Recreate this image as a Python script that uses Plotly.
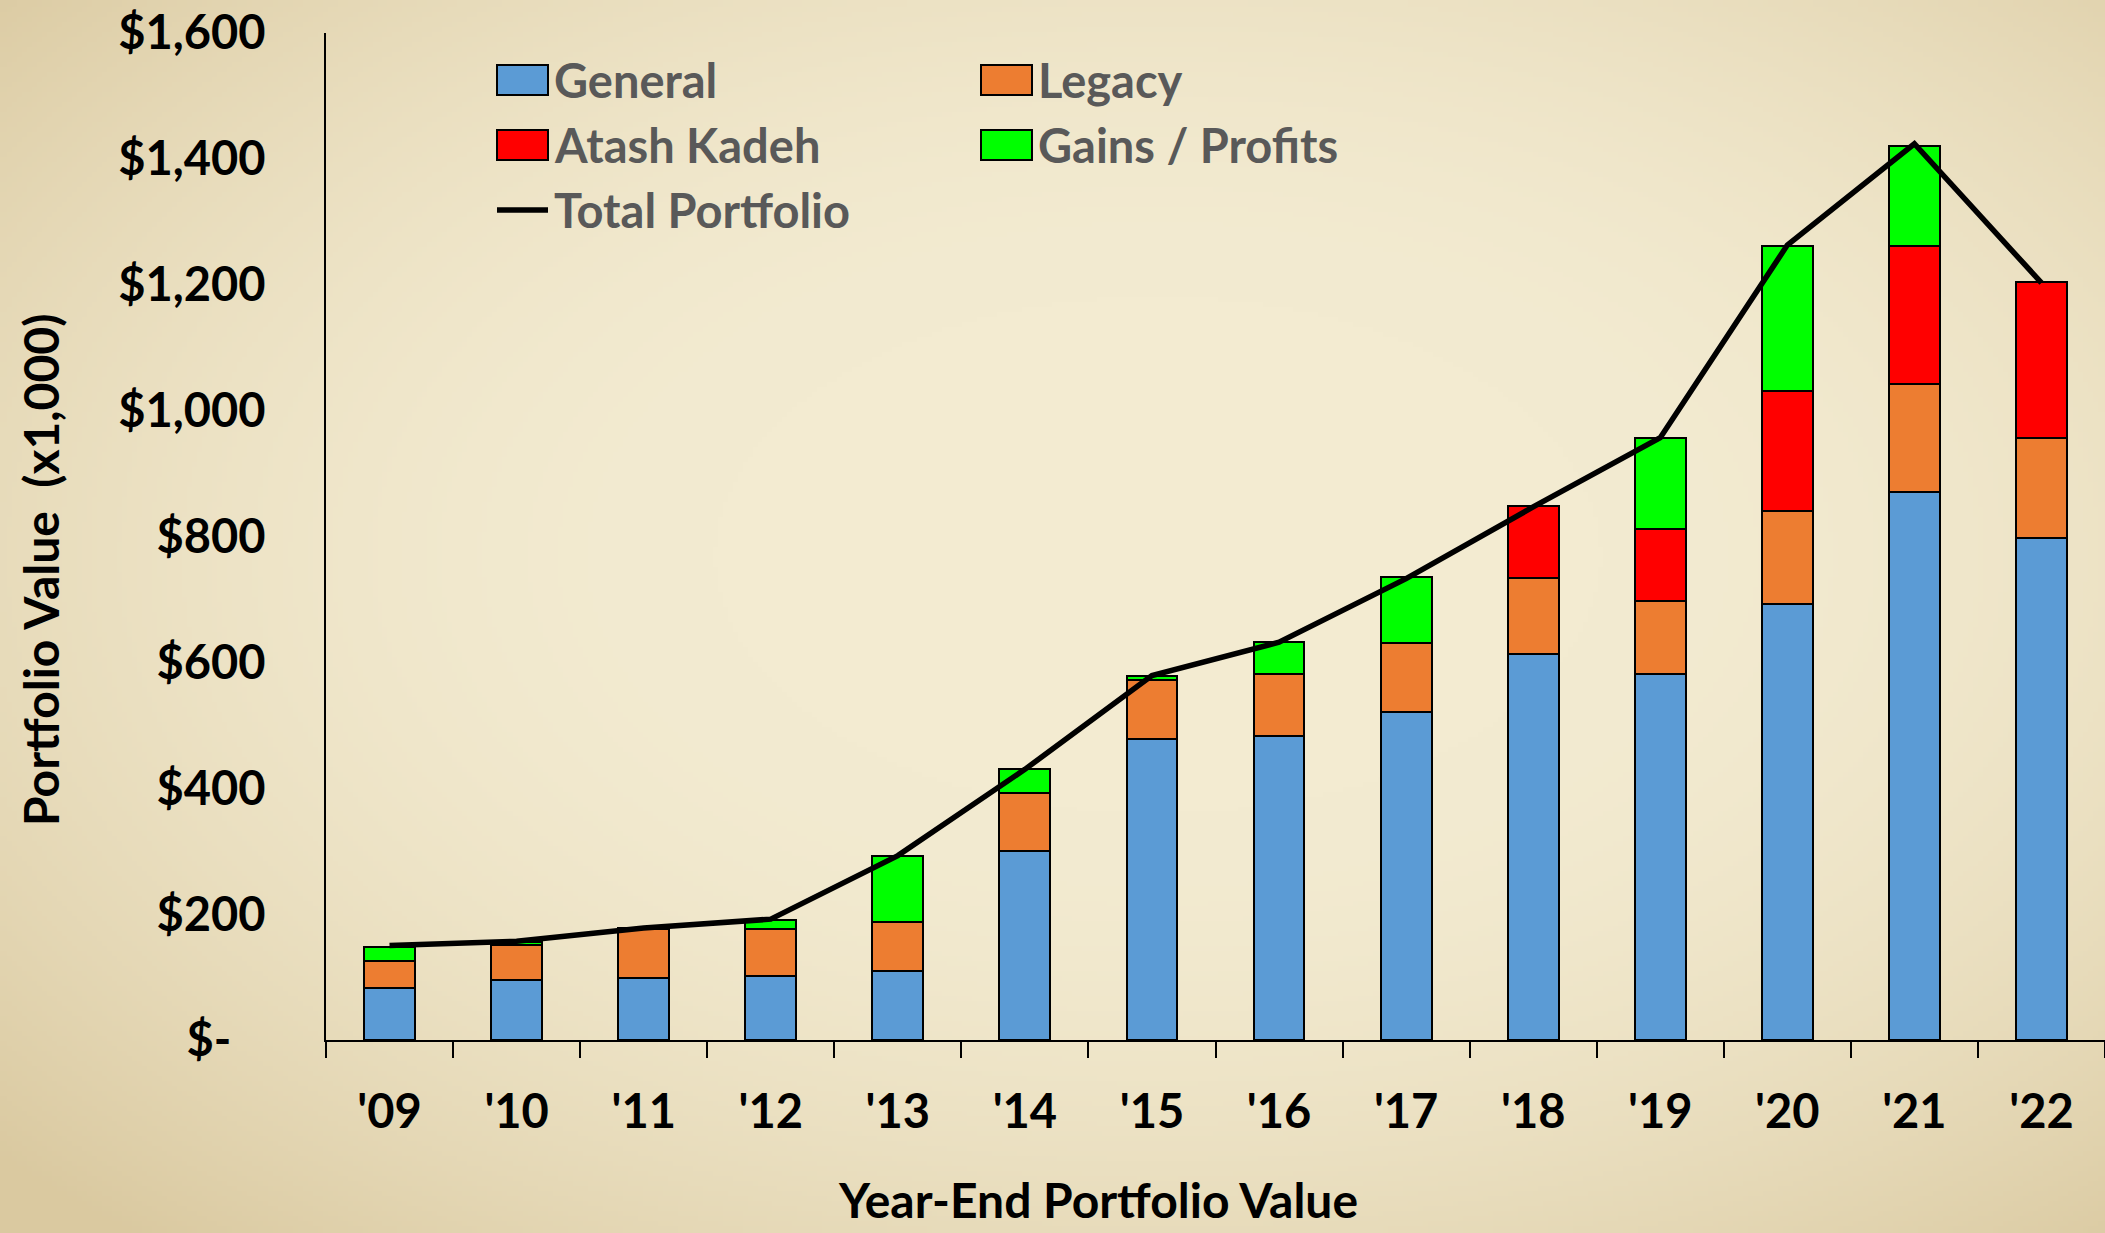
import numpy as np
import zlib, struct, base64
import plotly.graph_objects as go

# ---------------- data ----------------
years = ["'09", "'10", "'11", "'12", "'13", "'14", "'15", "'16", "'17", "'18", "'19", "'20", "'21", "'22"]
general = [82, 95, 99, 102, 109, 301, 478, 483, 521, 613, 582, 693, 871, 798]
legacy = [44, 56, 77, 74, 78, 91, 94, 98, 110, 121, 115, 147, 172, 158]
atash_kadeh = [0, 0, 0, 0, 0, 0, 0, 0, 0, 114, 115, 191, 219, 248]
gains_profits = [22, 5, 2, 15, 105, 39, 6, 51, 104, 0, 145, 231, 159, 0]
total_portfolio = [150, 157, 178, 192, 293, 430, 579, 632, 733, 847, 957, 1263, 1424, 1203]

y_tick_vals = [0, 200, 400, 600, 800, 1000, 1200, 1400, 1600]
y_tick_text = ["$-\u00a0\u00a0\u00a0", "$200", "$400", "$600", "$800", "$1,000", "$1,200", "$1,400", "$1,600"]

bar_names = ["General", "Legacy", "Atash Kadeh", "Gains / Profits"]
bar_colors = ["#5B9BD5", "#ED7D31", "#FF0000", "#00FF00"]
bar_series = [general, legacy, atash_kadeh, gains_profits]
line_name = "Total Portfolio"

# ---------------- layout constants ----------------
W, H = 2105, 1233
ML, MR, MT, MB = 326, 0, 33, 193
PW, PH = W - ML - MR, H - MT - MB
FONT = "Lato, 'Open Sans', sans-serif"


def px_x(px):
    return (px - ML) / PW


def px_y(py):
    return (H - MB - py) / PH


def png_data_uri(arr):
    h, w, _ = arr.shape
    raw = b"".join(b"\x00" + arr[i].tobytes() for i in range(h))

    def chunk(tag, data):
        c = struct.pack(">I", len(data)) + tag + data
        return c + struct.pack(">I", zlib.crc32(tag + data) & 0xFFFFFFFF)

    png = (b"\x89PNG\r\n\x1a\n"
           + chunk(b"IHDR", struct.pack(">IIBBBBB", w, h, 8, 2, 0, 0, 0))
           + chunk(b"IDAT", zlib.compress(raw, 9))
           + chunk(b"IEND", b""))
    return "data:image/png;base64," + base64.b64encode(png).decode()


# parchment vignette background
bw, bh = 421, 247
yy, xx = np.mgrid[0:bh, 0:bw]
u = (xx / (bw - 1) - 0.55) * 2
v = (yy / (bh - 1) - 0.45) * 2
r = np.sqrt(u ** 2 + v ** 2) / np.sqrt(2)
t = np.clip((r - 0.3) / 0.75, 0, 1) ** 1.8
center = np.array([243, 235, 209], dtype=float)
edge = np.array([218, 201, 160], dtype=float)
bg = (center[None, None, :] * (1 - t[..., None]) + edge[None, None, :] * t[..., None]).astype(np.uint8)
bg_uri = png_data_uri(bg)

fig = go.Figure()

for name, color, vals in zip(bar_names, bar_colors, bar_series):
    fig.add_trace(go.Bar(
        x=years, y=[v if v else None for v in vals], name=name,
        marker=dict(color=color, line=dict(color="black", width=2)),
        showlegend=False,
    ))

fig.add_trace(go.Scatter(
    x=years, y=total_portfolio, name=line_name, mode="lines",
    line=dict(color="black", width=5.5), showlegend=False, cliponaxis=False,
))

# custom legend (large swatches like the original)
legend_slots = [(497, 80), (981, 80), (497, 145), (981, 145), (497, 210)]
shapes = []
annotations = []
entries = list(zip(bar_names, bar_colors)) + [(line_name, None)]
for (name, color), (x0, yc) in zip(entries, legend_slots):
    if color is not None:
        shapes.append(dict(type="rect", xref="paper", yref="paper",
                           x0=px_x(x0), x1=px_x(x0 + 51), y0=px_y(yc + 15), y1=px_y(yc - 15),
                           fillcolor=color, line=dict(color="black", width=2)))
    else:
        shapes.append(dict(type="line", xref="paper", yref="paper",
                           x0=px_x(x0), x1=px_x(x0 + 51), y0=px_y(yc), y1=px_y(yc),
                           line=dict(color="black", width=5.5)))
    annotations.append(dict(text=name, xref="paper", yref="paper", x=px_x(x0 + 55), y=px_y(yc),
                            xanchor="left", yanchor="middle", showarrow=False,
                            font=dict(family=FONT, size=47, color="#595959", weight="bold")))

annotations.append(dict(text="Portfolio Value\u00a0 (x1,000)", xref="paper", yref="paper",
                        x=px_x(41), y=px_y(570), xanchor="center", yanchor="middle",
                        textangle=-90, showarrow=False,
                        font=dict(family=FONT, size=48, color="black", weight="bold")))
annotations.append(dict(text="Year-End Portfolio Value", xref="paper", yref="paper",
                        x=px_x(1098), y=px_y(1199), xanchor="center", yanchor="middle",
                        showarrow=False,
                        font=dict(family=FONT, size=48, color="black", weight="bold")))

fig.update_layout(
    width=W, height=H,
    margin=dict(l=ML, r=MR, t=MT, b=MB, pad=0),
    barmode="stack", bargap=0.6,
    paper_bgcolor="#EDE3C4", plot_bgcolor="rgba(0,0,0,0)",
    showlegend=False,
    shapes=shapes, annotations=annotations,
    images=[dict(source=bg_uri, xref="paper", yref="paper",
                 x=px_x(0), y=px_y(0), sizex=W / PW, sizey=H / PH,
                 xanchor="left", yanchor="top", sizing="stretch", layer="below")],
    xaxis=dict(type="category", range=[-0.5, len(years) - 0.5],
               showline=True, linecolor="black", linewidth=2,
               ticks="outside", tickson="boundaries", ticklen=16, tickwidth=2, tickcolor="black",
               tickfont=dict(family=FONT, size=47, color="black", weight="bold"),
               ticklabelstandoff=30, showgrid=False, zeroline=False),
    yaxis=dict(range=[0, 1600], showline=True, linecolor="black", linewidth=2,
               ticks="", tickvals=y_tick_vals, ticktext=y_tick_text,
               tickfont=dict(family=FONT, size=47, color="black", weight="bold"),
               ticklabelstandoff=49, showgrid=False, zeroline=False),
)

fig.write_html("out.html", config={"displayModeBar": False},
               post_script="document.body.style.margin='0';document.body.style.overflow='hidden';")
